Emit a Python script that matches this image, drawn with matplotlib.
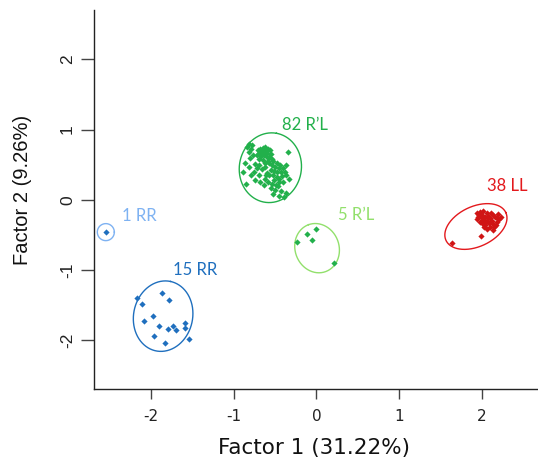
import numpy as np
import matplotlib
matplotlib.use("Agg")
import matplotlib.pyplot as plt

# ---- data ----
rr1_x = [-2.547]
rr1_y = [-0.459]

rr15_x = [-2.172, -1.869, -2.111, -1.781, -1.975, -2.080, -1.898, -1.797,
          -1.736, -1.693, -1.584, -1.584, -1.959, -1.826, -1.539]
rr15_y = [-1.394, -1.327, -1.479, -1.418, -1.654, -1.717, -1.788, -1.835,
          -1.792, -1.849, -1.754, -1.821, -1.939, -2.038, -1.982]

rl82_x = [-0.810, -0.778, -0.842, -0.790, -0.818, -0.770, -0.802, -0.858,
          -0.709, -0.681, -0.649, -0.616, -0.588, -0.560, -0.689, -0.657,
          -0.624, -0.592, -0.552, -0.721, -0.673, -0.632, -0.600, -0.568,
          -0.536, -0.697, -0.649, -0.584, -0.346, -0.737, -0.689, -0.721,
          -0.657, -0.616, -0.890, -0.520, -0.479, -0.439, -0.536, -0.495,
          -0.455, -0.407, -0.552, -0.512, -0.471, -0.431, -0.383, -0.568,
          -0.520, -0.479, -0.415, -0.366, -0.592, -0.447, -0.737, -0.681,
          -0.624, -0.584, -0.632, -0.850, -0.536, -0.487, -0.447, -0.399,
          -0.463, -0.552, -0.495, -0.423, -0.366, -0.455, -0.387, -0.528,
          -0.786, -0.608, -0.326, -0.749, -0.366, -0.508, -0.689, -0.810,
          -0.568, -0.616]
rl82_y = [0.801, 0.777, 0.754, 0.721, 0.683, 0.635, 0.597, 0.531,
          0.706, 0.730, 0.739, 0.754, 0.730, 0.706, 0.673, 0.683,
          0.692, 0.673, 0.654, 0.635, 0.626, 0.635, 0.616, 0.607,
          0.588, 0.578, 0.569, 0.559, 0.683, 0.512, 0.493, 0.446,
          0.436, 0.469, 0.389, 0.550, 0.531, 0.502, 0.493, 0.474,
          0.455, 0.446, 0.427, 0.408, 0.398, 0.389, 0.398, 0.360,
          0.351, 0.332, 0.341, 0.360, 0.379, 0.303, 0.280, 0.256,
          0.303, 0.256, 0.209, 0.232, 0.232, 0.209, 0.247, 0.256,
          0.190, 0.171, 0.133, 0.123, 0.104, 0.057, 0.043, 0.090,
          0.351, 0.351, 0.303, 0.398, 0.493, 0.280, 0.351, 0.469,
          0.517, 0.531]

rl5_x = [-0.237, -0.109, -0.004, -0.048, 0.218]
rl5_y = [-0.593, -0.488, -0.412, -0.565, -0.892]

ll38_x = [1.637, 1.988, 1.939, 1.980, 2.020, 2.060, 2.000, 1.959, 2.040, 2.080,
          2.101, 2.141, 2.201, 2.229, 2.181, 2.020, 2.060, 2.121, 1.980, 2.092,
          2.141, 2.040, 2.101, 2.149, 2.068, 2.181, 2.213, 2.000, 1.947, 2.052,
          2.133, 2.161, 2.109, 2.012, 2.080, 1.972, 2.028, 2.173]
ll38_y = [-0.607, -0.512, -0.190, -0.166, -0.152, -0.190, -0.213, -0.237, -0.237, -0.228,
          -0.261, -0.213, -0.199, -0.237, -0.261, -0.284, -0.294, -0.294, -0.308, -0.332,
          -0.341, -0.356, -0.379, -0.379, -0.417, -0.308, -0.275, -0.261, -0.275, -0.322,
          -0.427, -0.237, -0.190, -0.341, -0.265, -0.213, -0.389, -0.360]

# ellipses: centre x, centre y, semi axes (x units), angle on screen (deg)
ell_cx = [-2.547, -1.854, -0.557, 0.008, 1.929]
ell_cy = [-0.459, -1.654, 0.457, -0.687, -0.379]
ell_a = [0.103, 0.429, 0.423, 0.302, 0.399]
ell_b = [0.103, 0.357, 0.375, 0.266, 0.242]
ell_ang = [0, 78, 80, 110, 25]

labels = ["1 RR", "15 RR", "82 R\u2019L", "5 R\u2019L", "38 LL"]
lab_x = [-2.14, -1.47, -0.137, 0.48, 2.31]
lab_y = [-0.23, -1.00, 1.07, -0.22, 0.19]

c_light_blue = "#7eb2f2"
c_blue = "#1f6fbe"
c_green = "#22b04b"
c_light_green = "#92e06c"
c_red = "#e3191d"

point_col = [c_blue, c_blue, c_green, c_green, "#d01515"]
ell_col = [c_light_blue, c_blue, c_green, c_light_green, c_red]
lab_col = [c_light_blue, c_blue, c_green, c_light_green, c_red]

xs = [rr1_x, rr15_x, rl82_x, rl5_x, ll38_x]
ys = [rr1_y, rr15_y, rl82_y, rl5_y, ll38_y]

fig = plt.figure(figsize=(5.38, 4.63), dpi=100)
ax = fig.add_axes([94 / 538, 74 / 463, 444 / 538, 379 / 463])
xlim = (-2.69, 2.68)
ylim = (-2.69, 2.70)
ax.set_xlim(*xlim)
ax.set_ylim(*ylim)

# aspect factor so ellipses look right on screen
k = (444 / (xlim[1] - xlim[0])) / (379 / (ylim[1] - ylim[0]))
t = np.linspace(0, 2 * np.pi, 300)
for i in range(len(xs)):
    ax.scatter(xs[i], ys[i], s=10, marker="D", color=point_col[i], linewidths=0, zorder=3)
    th = np.deg2rad(ell_ang[i])
    u = ell_a[i] * np.cos(t) * np.cos(th) - ell_b[i] * np.sin(t) * np.sin(th)
    v = ell_a[i] * np.cos(t) * np.sin(th) + ell_b[i] * np.sin(t) * np.cos(th)
    ax.plot(ell_cx[i] + u, ell_cy[i] + v * k, color=ell_col[i], lw=1.0, zorder=2)
    ax.text(lab_x[i], lab_y[i], labels[i], color=lab_col[i], fontsize=12,
            family=["Lato", "DejaVu Sans"], ha="center", va="center")

for s in ["top", "right"]:
    ax.spines[s].set_visible(False)
for s in ["left", "bottom"]:
    ax.spines[s].set_linewidth(1.0)
    ax.spines[s].set_color("#222222")

# the source picture is stretched sideways, so the x texts use a wider face
ax.set_xticks([-2, -1, 0, 1, 2])
ax.set_yticks([-2, -1, 0, 1, 2])
ax.set_xticklabels(["-2", "-1", "0", "1", "2"], family="DejaVu Sans", fontsize=11, color="#222222")
ax.set_yticklabels(["-2", "-1", "0", "1", "2"], family="Liberation Sans", fontsize=12.5, color="#222222",
                   rotation=90, va="center")
ax.tick_params(axis="x", length=7.2, width=1.0, color="#444444", pad=7.5)
ax.tick_params(axis="y", length=9.4, width=1.0, color="#444444", pad=4.3)

ax.set_xlabel("Factor 1 (31.22%)", family="DejaVu Sans", fontsize=15.5, color="#111111")
ax.set_ylabel("Factor 2 (9.26%)", family="Liberation Sans", fontsize=14.5, color="#111111")
ax.xaxis.set_label_coords((314 - 94) / 444, (389 - 448) / 379)
ax.xaxis.label.set_va("center")
ax.yaxis.set_label_coords((23 - 94) / 444, (389 - 190) / 379)
ax.yaxis.label.set_va("center")

fig.savefig("out.png", dpi=100)
